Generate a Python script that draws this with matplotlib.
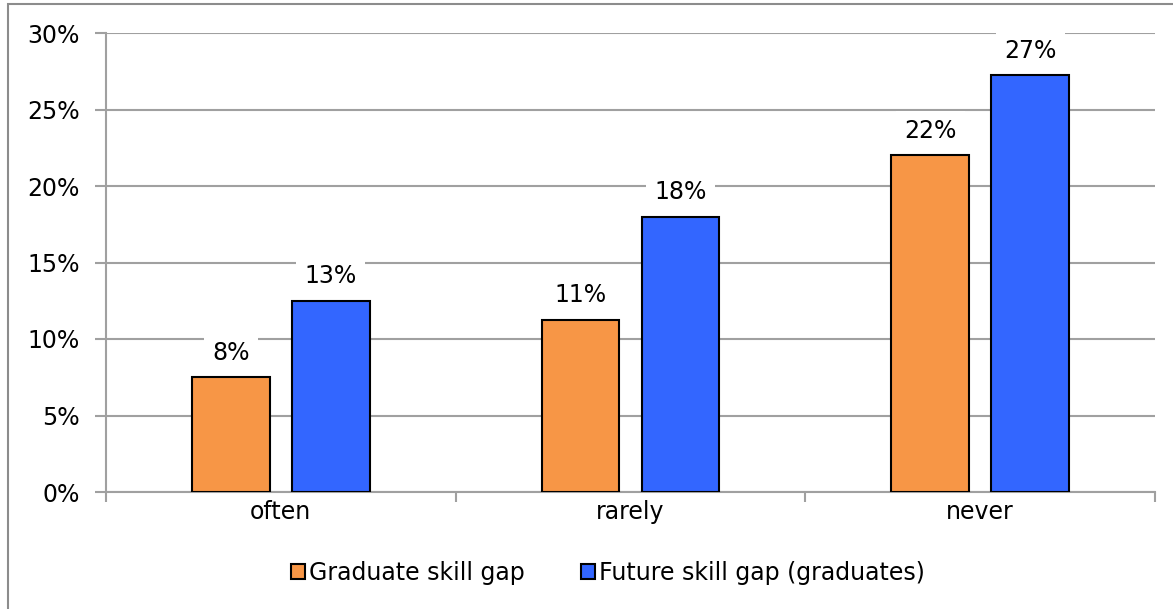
import numpy as np
import matplotlib.pyplot as plt
from matplotlib.patches import Rectangle
from matplotlib.ticker import FuncFormatter

categories = ["often", "rarely", "never"]
graduate_gap = [7.5, 11.25, 22.0]
future_gap = [12.5, 18.0, 27.25]
graduate_labels = ["8%", "11%", "22%"]
future_labels = ["13%", "18%", "27%"]
series_names = ["Graduate skill gap", "Future skill gap (graduates)"]

orange = "#F79646"
blue = "#3366FF"
grid_col = "#A0A0A0"

fig = plt.figure(figsize=(11.73, 6.09), dpi=100)
ax = fig.add_axes([106 / 1173, 1 - 492 / 609, (1155 - 106) / 1173, (492 - 33) / 609])

# outer chart border (right/bottom sides fall outside the image)
fig.patches.append(Rectangle((8 / 1173, -0.05), 1.1, 1.05 - 4 / 609,
                             transform=fig.transFigure, fill=False,
                             edgecolor="#8C8C8C", linewidth=1.5))

x = np.arange(len(categories))
w = 0.223
off = 0.143
b1 = ax.bar(x - off, graduate_gap, w, color=orange, edgecolor="black", linewidth=1.5,
            label=series_names[0], zorder=3)
b2 = ax.bar(x + off, future_gap, w, color=blue, edgecolor="black", linewidth=1.5,
            label=series_names[1], zorder=3)

for bars, vals, labs in [(b1, graduate_gap, graduate_labels), (b2, future_gap, future_labels)]:
    for r, v, t in zip(bars, vals, labs):
        ax.annotate(t, (r.get_x() + r.get_width() / 2, v),
                    xytext=(0, 9), textcoords="offset points", ha="center", va="bottom",
                    fontsize=17, zorder=4,
                    bbox=dict(boxstyle="square,pad=0.35", fc="white", ec="none"))

ax.set_xlim(-0.5, 2.5)
ax.set_ylim(0, 30)
ax.set_yticks(np.arange(0, 31, 5))
ax.yaxis.set_major_formatter(FuncFormatter(lambda v, p: f"{v:.0f}%"))
ax.set_xticks(x)
ax.set_xticklabels(categories)
ax.set_xticks([-0.5, 0.5, 1.5, 2.5], minor=True)
ax.tick_params(axis="x", which="major", length=0, pad=6, labelsize=17)
ax.tick_params(axis="x", which="minor", length=7, width=1.5, color=grid_col, direction="out")
ax.tick_params(axis="y", length=8, width=1.5, color=grid_col, pad=11, labelsize=17)
ax.grid(axis="y", color=grid_col, linewidth=1.5, zorder=0)

for s in ["top", "right"]:
    ax.spines[s].set_visible(False)
for s in ["left", "bottom"]:
    ax.spines[s].set_color(grid_col)
    ax.spines[s].set_linewidth(1.5)

fig.legend(loc="center", bbox_to_anchor=(608 / 1173, 1 - 573 / 609), ncol=2, frameon=False,
           fontsize=17, handlelength=0.6, handleheight=0.6, handletextpad=0.15,
           columnspacing=2.4)

fig.savefig("out.png", dpi=100)
